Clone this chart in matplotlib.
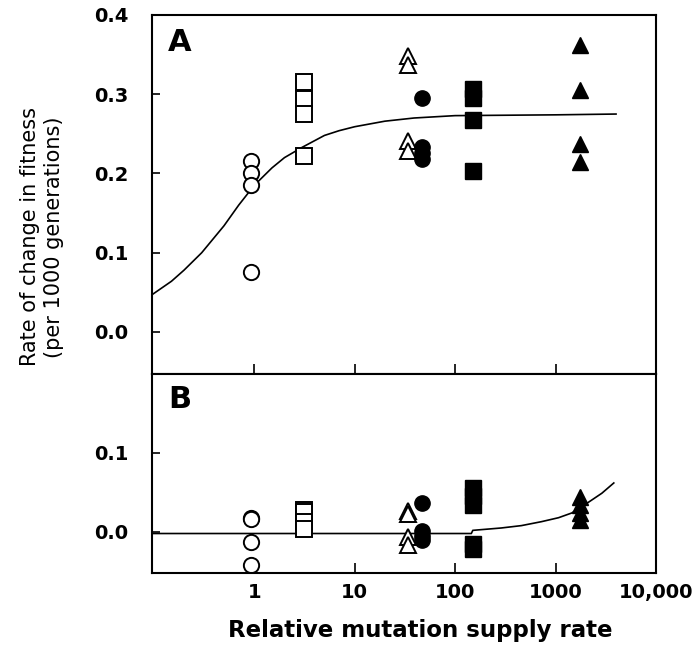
import matplotlib

matplotlib.use("Agg")
import matplotlib.pyplot as plt
from matplotlib.ticker import FixedLocator, NullLocator

plt.rcParams["font.family"] = ["DejaVu Sans"]

# x positions of the six treatment groups (relative mutation supply rate)
X_OPEN_CIRCLE = 0.93
X_OPEN_SQUARE = 3.1
X_OPEN_TRI = 34.0
X_FILL_CIRCLE = 47.0
X_FILL_SQUARE = 150.0
X_FILL_TRI = 1750.0

# panel A values (rate of change in fitness)
a_open_circle = [0.216, 0.201, 0.185, 0.076]
a_open_square = [0.315, 0.294, 0.275, 0.222]
a_open_tri = [0.348, 0.337, 0.241, 0.228]
a_fill_circle = [0.295, 0.234, 0.226, 0.218]
a_fill_square = [0.306, 0.295, 0.268, 0.203]
a_fill_tri = [0.362, 0.305, 0.237, 0.214]

# fitted curve A
curve_a_x = [0.096, 0.15, 0.2, 0.3, 0.5, 0.7, 1.0, 1.5, 2.0, 3.0, 5.0, 7.0,
             10.0, 20.0, 39.0, 100.0, 1000.0, 4000.0]
curve_a_y = [0.047, 0.064, 0.078, 0.100, 0.134, 0.160, 0.185, 0.207, 0.220,
             0.233, 0.248, 0.254, 0.259, 0.266, 0.270, 0.273, 0.274, 0.275]

# panel B values
b_open_circle = [0.018, 0.016, -0.013, -0.042]
b_open_square = [0.028, 0.025, 0.013, 0.004]
b_open_tri = [0.026, 0.023, -0.007, -0.016]
b_fill_circle = [0.037, 0.001, -0.005, -0.010]
b_fill_square = [0.056, 0.045, 0.034, -0.015, -0.021]
b_fill_tri = [0.044, 0.034, 0.024, 0.015]

curve_b_x = [0.096, 1.0, 10.0, 100.0, 145.0, 150.0, 288.0, 457.0, 724.0,
             1070.0, 1450.0, 2150.0, 2890.0, 3800.0]
curve_b_y = [-0.002, -0.002, -0.002, -0.002, -0.002, 0.002, 0.005, 0.008,
             0.013, 0.018, 0.024, 0.038, 0.049, 0.062]

x_ticks = [1, 10, 100, 1000, 10000]
x_tick_labels = ["1", "10", "100", "1000", "10,000"]


def scatter_groups(ax, vals):
    oc, osq, otr, fc, fsq, ftr = vals
    ms = 11
    ax.plot([X_OPEN_CIRCLE] * len(oc), oc, "o", ms=ms, mfc="white", mec="black", mew=1.4, ls="none")
    ax.plot([X_OPEN_SQUARE] * len(osq), osq, "s", ms=ms, mfc="white", mec="black", mew=1.4, ls="none")
    ax.plot([X_OPEN_TRI] * len(otr), otr, "^", ms=ms, mfc="white", mec="black", mew=1.4, ls="none")
    ax.plot([X_FILL_CIRCLE] * len(fc), fc, "o", ms=ms, mfc="black", mec="black", ls="none")
    ax.plot([X_FILL_SQUARE] * len(fsq), fsq, "s", ms=ms, mfc="black", mec="black", ls="none")
    ax.plot([X_FILL_TRI] * len(ftr), ftr, "^", ms=ms, mfc="black", mec="black", ls="none")


fig = plt.figure(figsize=(6.95, 6.46), dpi=100)
ax_a = fig.add_axes([0.2187, 0.4211, 0.7252, 0.5557])
ax_b = fig.add_axes([0.2187, 0.1130, 0.7252, 0.3081])

ax_a.plot(curve_a_x, curve_a_y, color="black", lw=1.2)
scatter_groups(ax_a, [a_open_circle, a_open_square, a_open_tri,
                      a_fill_circle, a_fill_square, a_fill_tri])
ax_b.plot(curve_b_x, curve_b_y, color="black", lw=1.2)
scatter_groups(ax_b, [b_open_circle, b_open_square, b_open_tri,
                      b_fill_circle, b_fill_square, b_fill_tri])

ax_a.set_ylim(-0.053, 0.4)
ax_a.set_yticks([0.0, 0.1, 0.2, 0.3, 0.4])
ax_a.set_yticklabels(["0.0", "0.1", "0.2", "0.3", "0.4"])
ax_b.set_ylim(-0.052, 0.2)
ax_b.set_yticks([0.0, 0.1])
ax_b.set_yticklabels(["0.0", "0.1"])

for ax in (ax_a, ax_b):
    ax.set_xscale("log")
    ax.set_xlim(0.096, 10000)
    ax.xaxis.set_major_locator(FixedLocator(x_ticks))
    ax.xaxis.set_minor_locator(NullLocator())
    ax.tick_params(direction="in", width=1.2, labelsize=14,
                   top=False, right=False)
    ax.tick_params(axis="y", length=6, pad=17)
    ax.tick_params(axis="x", length=7, pad=7)
    for lab in ax.get_yticklabels():
        lab.set_fontweight("bold")
    for sp in ax.spines.values():
        sp.set_linewidth(1.5)

ax_a.tick_params(axis="x", labelbottom=False)
ax_b.set_xticklabels(x_tick_labels, fontweight="bold")

ax_a.text(0.032, 0.965, "A", transform=ax_a.transAxes, fontsize=22,
          fontweight="bold", va="top", ha="left")
ax_b.text(0.032, 0.945, "B", transform=ax_b.transAxes, fontsize=22,
          fontweight="bold", va="top", ha="left")

fig.text(420 / 695, 1 - 637 / 646, "Relative mutation supply rate",
         fontsize=16.5, fontweight="bold", ha="center", va="baseline")
fig.text(42 / 695, 1 - 237 / 646, "Rate of change in fitness\n(per 1000 generations)",
         rotation=90, ha="center", va="center", multialignment="center",
         fontsize=15, linespacing=1.25)

fig.savefig("out.png", dpi=100)
